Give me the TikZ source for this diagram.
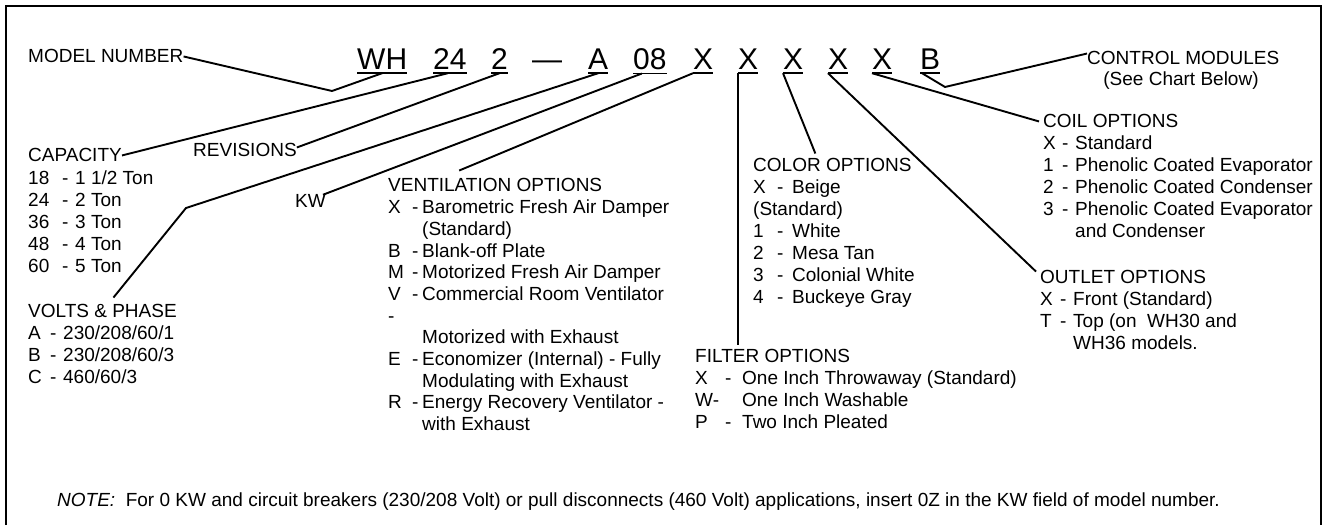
\documentclass[tikz,border=0pt]{standalone}
\usepackage{fontspec}
\setmainfont{Liberation Sans}
\usetikzlibrary{calc}
\newcommand{\lbfont}{\fontsize{19}{22}\selectfont}
\newcommand{\ventfont}{\fontsize{19}{21.7}\selectfont}
\newcommand{\codefont}{\fontsize{30}{34}\selectfont}
\tikzset{
  lbl/.style={anchor=base west, inner sep=0pt, font=\lbfont},
  code/.style={anchor=base west, inner sep=0pt, font=\codefont},
  leader/.style={line width=1.9pt, line join=miter},
  uline/.style={line width=1.7pt},
  frame/.style={line width=2.7pt}
}
\begin{document}
\begin{tikzpicture}[x=1pt,y=-1pt]
\useasboundingbox (0,0) rectangle (1324,529);
\draw[frame] (6,525) -- (6,6) -- (1321,6) -- (1321,525);

% model code
\node[code] (c1) at (357,70) {WH};
\node[code] (c2) at (433,70) {24};
\node[code] (c3) at (491,70) {2};
\node[code] (c4) at (532,70) {—};
\node[code] (c5) at (588,70) {A};
\node[code] (c6) at (633,70) {08};
\node[code] (c7) at (693,70) {X};
\node[code] (c8) at (738,70) {X};
\node[code] (c9) at (783,70) {X};
\node[code] (c10) at (828,70) {X};
\node[code] (c11) at (872,70) {X};
\node[code] (c12) at (920,70) {B};
\foreach \n in {c1,c2,c3,c5,c6,c7,c8,c9,c10,c11,c12}
  \draw[uline] ([yshift=-3pt]\n.south west) -- ([yshift=-3pt]\n.south east);
\coordinate (u1) at ([yshift=-3pt]c1.south);
\coordinate (u2) at ([yshift=-3pt,xshift=-2pt]c2.south);
\coordinate (u3) at ([yshift=-3pt]c3.south);
\coordinate (u5) at ([yshift=-3pt]c5.south);
\coordinate (u6) at ([yshift=-3pt,xshift=-8pt]c6.south);
\coordinate (u7w) at ([yshift=-3pt]c7.south west);
\coordinate (u8w) at ([yshift=-3pt]c8.south west);
\coordinate (u9w) at ([yshift=-3pt]c9.south west);
\coordinate (u10w) at ([yshift=-3pt]c10.south west);
\coordinate (u11w) at ([yshift=-3pt]c11.south west);
\coordinate (u12w) at ([yshift=-3pt,xshift=2pt]c12.south west);

% labels
\node[lbl] (mn) at (28,63) {MODEL NUMBER};
\node[lbl] (rev) at (193,157) {REVISIONS};
\node[lbl] (kw) at (295,208) {KW};

\node[lbl] (cap) at (28,162) {CAPACITY};
\node[lbl] (capl) at (28,185) {\begin{tabular}[t]{@{}p{34pt}@{}p{13pt}@{}l@{}}
18 & - & 1 1/2 Ton\\
24 & - & 2 Ton\\
36 & - & 3 Ton\\
48 & - & 4 Ton\\
60 & - & 5 Ton
\end{tabular}};

\node[lbl] (volts) at (28,317) {VOLTS \& PHASE};
\node[lbl] (voltsl) at (28,339) {\begin{tabular}[t]{@{}p{22pt}@{}p{13pt}@{}l@{}}
A & - & 230/208/60/1\\
B & - & 230/208/60/3\\
C & - & 460/60/3
\end{tabular}};

\node[lbl] (vent) at (388,192) {VENTILATION OPTIONS};
\node[lbl, font=\ventfont] (ventl) at (388,213.7) {\begin{tabular}[t]{@{}p{24pt}@{}p{10pt}@{}l@{}}
X & - & Barometric Fresh Air Damper\\
 & & (Standard)\\
B & - & Blank-off Plate\\
M & - & Motorized Fresh Air Damper\\
V & - & Commercial Room Ventilator\\
- & & \\
 & & Motorized with Exhaust\\
E & - & Economizer (Internal) - Fully\\
 & & Modulating with Exhaust\\
R & - & Energy Recovery Ventilator -\\
 & & with Exhaust
\end{tabular}};

\node[lbl] (color) at (753,172) {COLOR OPTIONS};
\node[lbl] (colorl) at (753,194) {\begin{tabular}[t]{@{}p{24pt}@{}p{15pt}@{}l@{}}
X & - & Beige\\
\multicolumn{3}{@{}l@{}}{(Standard)}\\
1 & - & White\\
2 & - & Mesa Tan\\
3 & - & Colonial White\\
4 & - & Buckeye Gray
\end{tabular}};

\node[lbl] (filt) at (695,362) {FILTER OPTIONS};
\node[lbl] (filtl) at (695,384) {\begin{tabular}[t]{@{}p{30pt}@{}p{17pt}@{}l@{}}
X & - & One Inch Throwaway (Standard)\\
\multicolumn{2}{@{}l@{}}{W-} & One Inch Washable\\
P & - & Two Inch Pleated
\end{tabular}};

\node[lbl] (coil) at (1043,128) {COIL OPTIONS};
\node[lbl] (coill) at (1043,150) {\begin{tabular}[t]{@{}p{19pt}@{}p{13pt}@{}l@{}}
X & - & Standard\\
1 & - & Phenolic Coated Evaporator\\
2 & - & Phenolic Coated Condenser\\
3 & - & Phenolic Coated Evaporator\\
 & & and Condenser
\end{tabular}};

\node[lbl] (out) at (1040,283) {OUTLET OPTIONS};
\node[lbl] (outl) at (1040,305) {\begin{tabular}[t]{@{}p{20pt}@{}p{13pt}@{}l@{}}
X & - & Front (Standard)\\
T & - & Top (on\ \ WH30 and\\
 & & WH36 models.
\end{tabular}};

\node[lbl] (ctrl) at (1087,65) {CONTROL MODULES};
\node[lbl, anchor=base] (ctrlb) at (1181,86) {(See Chart Below)};

\node[lbl] (note) at (57,506) {\textit{NOTE:}\ \ For 0 KW and circuit breakers (230/208 Volt) or pull disconnects (460 Volt) applications, insert 0Z in the KW field of model number.};

% leaders
\coordinate (vmn) at (332,91);
\coordinate (vvp) at (186,208);
\coordinate (vcm) at (945,87);
\coordinate (vtop) at ($(volts.north)+(11,-6)$);
\coordinate (ventt) at ($(vent.north)+(-36,-8)$);
\coordinate (ftop) at ($(filt.north)+(0,-4)$);
\coordinate (colt) at ($(color.north)+(-17,-5)$);
\draw[leader] (mn.east) -- (vmn) -- (u1);
\draw[leader] (cap.east) -- (u2);
\draw[leader] ([yshift=3pt]rev.east) -- (u3);
\draw[leader] (vtop) -- (vvp) -- (u5);
\draw[leader] ([xshift=-3pt]kw.north east) -- (u6);
\draw[leader] (ventt) -- (u7w);
\draw[leader] (u8w) -- (u8w |- ftop);
\draw[leader] (u9w) -- (colt);
\draw[leader] (u10w) -- ([xshift=-4pt,yshift=-2pt]out.north west);
\draw[leader] (u11w) -- ([xshift=-4pt]coil.west);
\draw[leader] (u12w) -- (vcm) -- ([yshift=-2pt]ctrl.north west);
\end{tikzpicture}
\end{document}
